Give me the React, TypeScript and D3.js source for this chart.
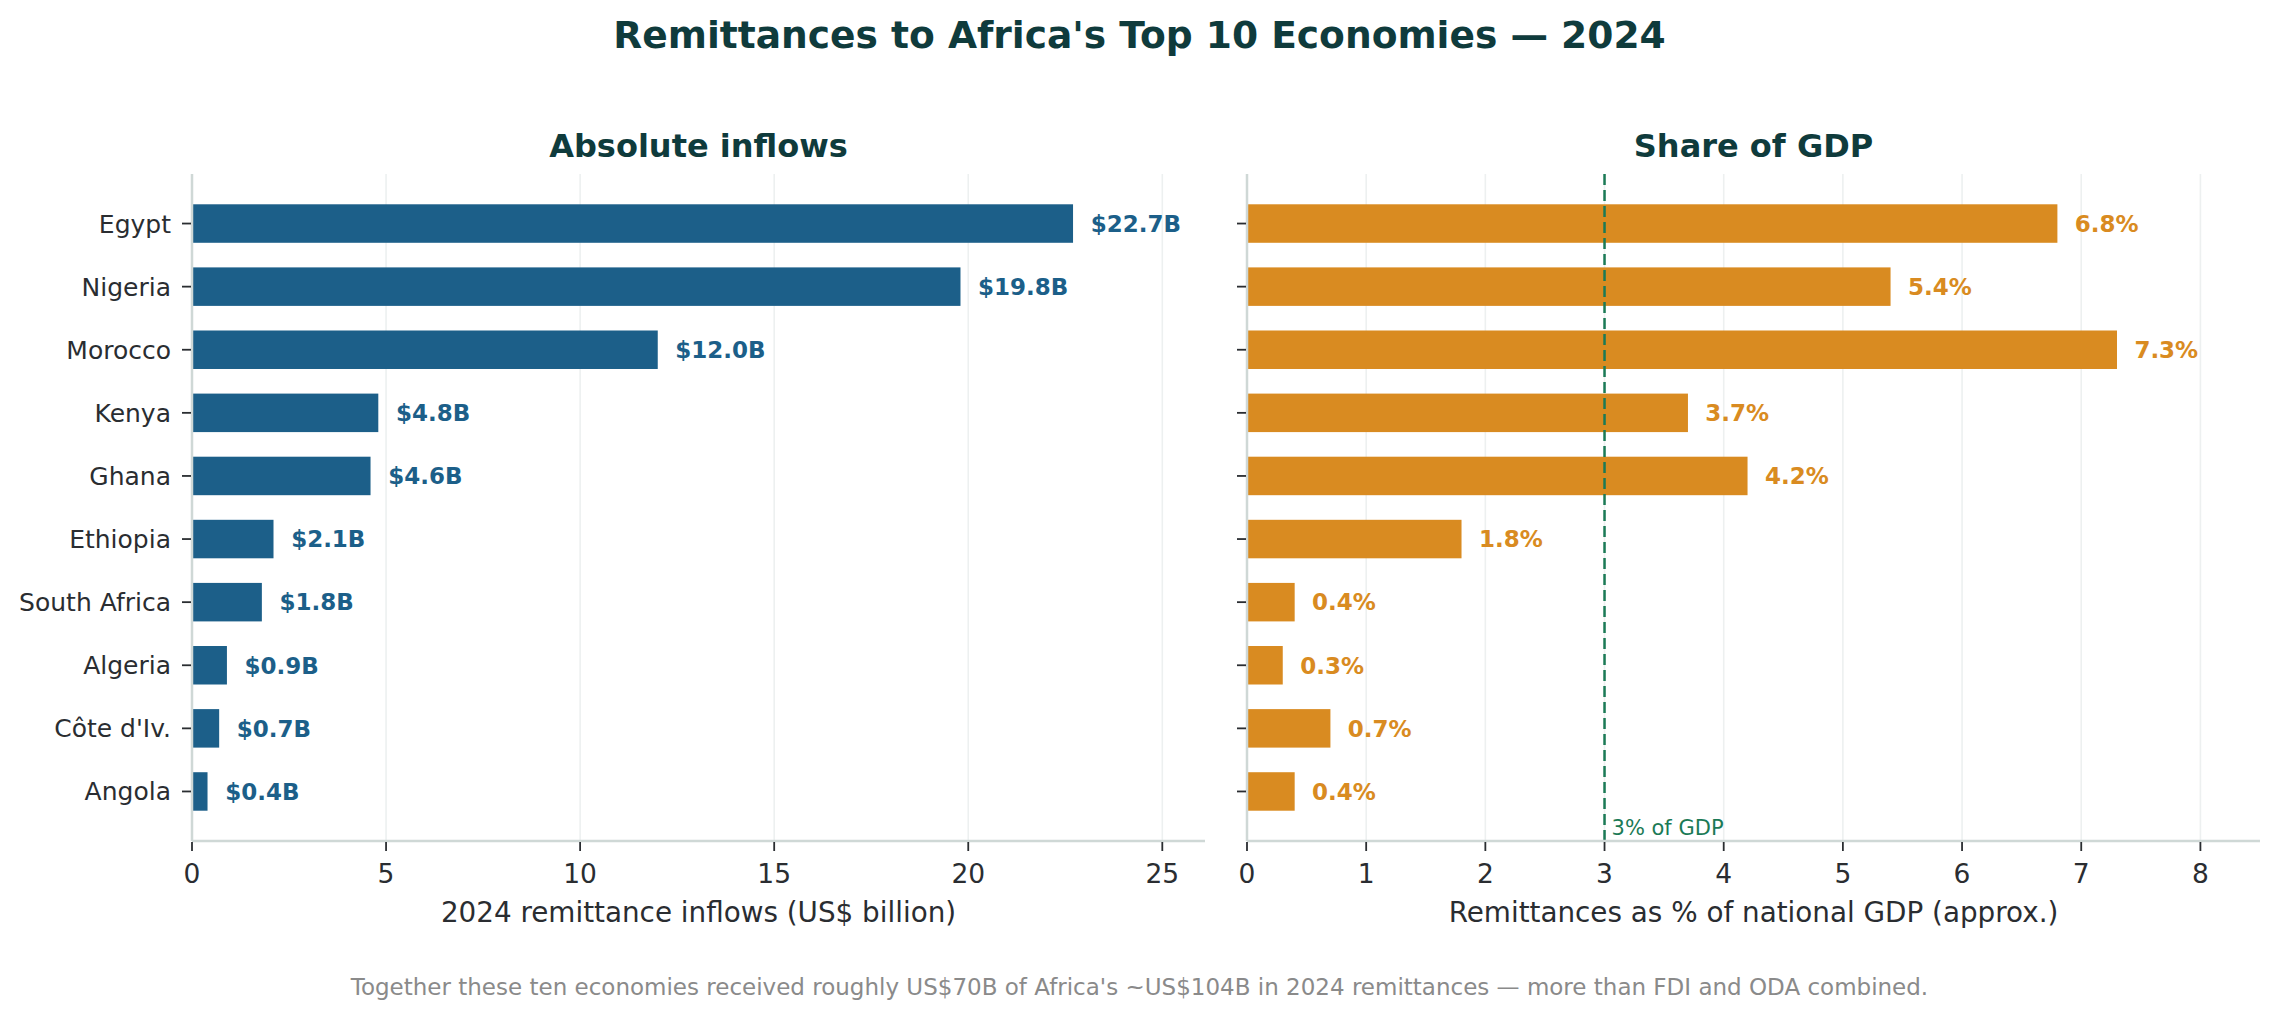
import React from "react";
import * as d3 from "d3";

// Remittance inflows for Africa's ten largest recipient economies, 2024
const countries = [
  "Egypt",
  "Nigeria",
  "Morocco",
  "Kenya",
  "Ghana",
  "Ethiopia",
  "South Africa",
  "Algeria",
  "Côte d'Iv.",
  "Angola",
];
const inflowsBn = [22.7, 19.8, 12.0, 4.8, 4.6, 2.1, 1.8, 0.9, 0.7, 0.4];
const shareOfGdp = [6.8, 5.4, 7.3, 3.7, 4.2, 1.8, 0.4, 0.3, 0.7, 0.4];
const inflowTicks = [0, 5, 10, 15, 20, 25];
const shareTicks = [0, 1, 2, 3, 4, 5, 6, 7, 8];
const gdpThreshold = 3;

const W = 2279;
const H = 1020;
const FONT = "DejaVu Sans, Verdana, sans-serif";

const BLUE = "#1c5f89";
const ORANGE = "#d98b21";
const GREEN = "#1b7a56";
const TITLE = "#0f3b3c";
const INK = "#2a2d31";
const SPINE = "#cfd8d6";
const GRID = "#edf0f0";

const top = 174;
const bottom = 841;
const barHeight = 0.61;

type PanelProps = {
  x0: number;
  x1: number;
  values: number[];
  xMax: number;
  ticks: number[];
  color: string;
  title: string;
  xLabel: string;
  fmt: (v: number) => string;
  showNames: boolean;
  threshold?: number;
};

function Panel(p: PanelProps) {
  const x = d3.scaleLinear().domain([0, p.xMax]).range([p.x0, p.x1]);
  const y = d3
    .scaleLinear()
    .domain([-0.785, countries.length - 1 + 0.785])
    .range([top, bottom]);
  const maxV = d3.max(p.values) as number;
  const pad = maxV * 0.02;
  const mid = (p.x0 + p.x1) / 2;

  return (
    <g>
      {/* vertical grid */}
      {p.ticks.map((t) => (
        <line key={"g" + t} x1={x(t)} x2={x(t)} y1={top} y2={bottom} stroke={GRID} strokeWidth={1.6} />
      ))}

      {/* bars */}
      {p.values.map((v, i) => (
        <rect
          key={"b" + i}
          x={x(0)}
          y={y(i - barHeight / 2)}
          width={x(v) - x(0)}
          height={y(i + barHeight / 2) - y(i - barHeight / 2)}
          fill={p.color}
        />
      ))}

      {/* value labels */}
      {p.values.map((v, i) => (
        <text
          key={"v" + i}
          x={x(v + pad)}
          y={y(i)}
          dy="0.36em"
          fontFamily={FONT}
          fontWeight="bold"
          fontSize={23}
          fill={p.color}
        >
          {p.fmt(v)}
        </text>
      ))}

      {/* reference line */}
      {p.threshold !== undefined && (
        <g>
          <line
            x1={x(p.threshold)}
            x2={x(p.threshold)}
            y1={top}
            y2={bottom}
            stroke={GREEN}
            strokeWidth={2.5}
            strokeDasharray="11,5"
          />
          <text x={x(p.threshold) + 7} y={bottom - 6} fontFamily={FONT} fontSize={21} fill={GREEN}>
            {p.threshold}% of GDP
          </text>
        </g>
      )}

      {/* spines */}
      <line x1={p.x0} x2={p.x0} y1={top} y2={bottom} stroke={SPINE} strokeWidth={2.5} />
      <line x1={p.x0} x2={p.x1} y1={bottom} y2={bottom} stroke={SPINE} strokeWidth={2.5} />

      {/* y ticks */}
      {countries.map((c, i) => (
        <g key={"y" + i}>
          <line x1={p.x0 - 10} x2={p.x0 - 1} y1={y(i)} y2={y(i)} stroke={INK} strokeWidth={1.8} />
          {p.showNames && (
            <text
              x={p.x0 - 21}
              y={y(i)}
              dy="0.36em"
              textAnchor="end"
              fontFamily={FONT}
              fontSize={25}
              fill={INK}
            >
              {c}
            </text>
          )}
        </g>
      ))}

      {/* x ticks */}
      {p.ticks.map((t) => (
        <g key={"x" + t}>
          <line x1={x(t)} x2={x(t)} y1={bottom + 1} y2={bottom + 10} stroke={INK} strokeWidth={1.8} />
          <text x={x(t)} y={883} textAnchor="middle" fontFamily={FONT} fontSize={26.5} fill={INK}>
            {t}
          </text>
        </g>
      ))}

      <text x={mid} y={922} textAnchor="middle" fontFamily={FONT} fontSize={27.8} fill={INK}>
        {p.xLabel}
      </text>

      <text x={mid} y={157} textAnchor="middle" fontFamily={FONT} fontWeight="bold" fontSize={32} fill={TITLE}>
        {p.title}
      </text>
    </g>
  );
}

export default function App() {
  return (
    <svg
      width={W}
      height={H}
      viewBox={`0 0 ${W} ${H}`}
      style={{ display: "block", position: "absolute", left: 0, top: 0, background: "#fff" }}
    >
      <rect width={W} height={H} fill="#fff" />
      <text x={W / 2} y={48} textAnchor="middle" fontFamily={FONT} fontWeight="bold" fontSize={37.6} fill={TITLE}>
        Remittances to Africa's Top 10 Economies — 2024
      </text>
      <Panel
        x0={192}
        x1={1205}
        values={inflowsBn}
        xMax={26.1}
        ticks={inflowTicks}
        color={BLUE}
        title="Absolute inflows"
        xLabel="2024 remittance inflows (US$ billion)"
        fmt={(v) => `$${v.toFixed(1)}B`}
        showNames={true}
      />
      <Panel
        x0={1247}
        x1={2260}
        values={shareOfGdp}
        xMax={8.5}
        ticks={shareTicks}
        color={ORANGE}
        title="Share of GDP"
        xLabel="Remittances as % of national GDP (approx.)"
        fmt={(v) => `${v.toFixed(1)}%`}
        showNames={false}
        threshold={gdpThreshold}
      />
      <text x={W / 2} y={995} textAnchor="middle" fontFamily={FONT} fontSize={23} fill="#8a8a8a">
        Together these ten economies received roughly US$70B of Africa's ~US$104B in 2024 remittances — more than FDI and ODA combined.
      </text>
    </svg>
  );
}
